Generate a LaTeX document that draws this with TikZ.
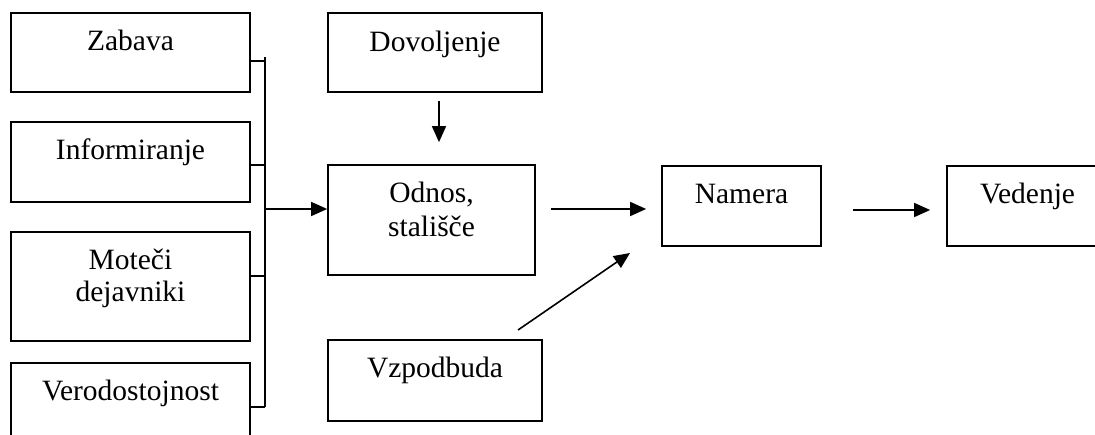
\documentclass[tikz,border=0pt]{standalone}
\usepackage{fontspec}
\setmainfont{Liberation Serif}
\usetikzlibrary{arrows.meta}
\begin{document}
\begin{tikzpicture}[x=1pt,y=-1pt,
 box/.style={draw, line width=1.7pt, inner sep=0pt},
 txt/.style={font=\fontsize{29.5}{34}\selectfont, anchor=base, inner sep=0pt, align=center},
 ln/.style={line width=1.6pt},
 arr/.style={line width=1.6pt, -{Triangle[length=16pt,width=14pt]}}]
\useasboundingbox (0,0) rectangle (1095,435);
\fill[white] (0,0) rectangle (1095,435);
\clip (0,0) rectangle (1095,435);
% boxes
\node[box, minimum width=239pt, minimum height=79pt] (zab) at (130.5,52.5) {};
\node[box, minimum width=239pt, minimum height=80pt] (inf) at (130.5,162) {};
\node[box, minimum width=239pt, minimum height=109pt] (mot) at (130.5,286.5) {};
\node[box, minimum width=239pt, minimum height=80pt] (ver) at (130.5,403) {};
\node[box, minimum width=214pt, minimum height=79pt] (dov) at (435,52.5) {};
\node[box, minimum width=207pt, minimum height=110pt] (odn) at (431.5,220) {};
\node[box, minimum width=214pt, minimum height=81pt] (vzp) at (435,380.5) {};
\node[box, minimum width=159pt, minimum height=80pt] (nam) at (741.5,206) {};
\node[box, minimum width=161pt, minimum height=80pt] (ved) at (1027.5,206) {};
% texts
\node[txt] (tzab) at (130.5,51) {Zabava};
\node[txt] (tinf) at (130.5,160) {Informiranje};
\node[txt] (tmot1) at (130.5,270) {Moteči};
\node[txt] (tmot2) at (130.5,302) {dejavniki};
\node[txt] (tver) at (130.5,400) {Verodostojnost};
\node[txt] (tdov) at (435,52) {Dovoljenje};
\node[txt] (todn1) at (431.5,203) {Odnos,};
\node[txt] (todn2) at (431.5,237) {stališče};
\node[txt] (tvzp) at (435,378) {Vzpodbuda};
\node[txt] (tnam) at (741.5,204) {Namera};
\node[txt] (tved) at (1027.5,204) {Vedenje};
% bus
\coordinate (btop) at (265,57);
\coordinate (b1) at (265,61);
\coordinate (b2) at (265,165);
\coordinate (bo) at (265,209);
\coordinate (b3) at (265,276);
\coordinate (b4) at (265,407);
\draw[ln] (btop) -- (b4);
\draw[ln] (b1 -| zab.east) -- (b1);
\draw[ln] (b2 -| inf.east) -- (b2);
\draw[ln] (b3 -| mot.east) -- (b3);
\draw[ln] (b4 -| ver.east) -- (b4);
\draw[arr] (bo) -- (bo -| odn.west);
% other arrows
\coordinate (cx) at (439,0);
\draw[arr, shorten <=8pt, shorten >=22pt] (cx |- dov.south) -- (cx |- odn.north);
\coordinate (r1) at (0,209);
\draw[arr, shorten <=15pt, shorten >=15pt] (r1 -| odn.east) -- (r1 -| nam.west);
\coordinate (r2) at (0,210);
\draw[arr, shorten <=31pt, shorten >=16pt] (r2 -| nam.east) -- (r2 -| ved.west);
\coordinate (v1) at (518,330);
\coordinate (v2) at (630,253);
\draw[arr] (v1) -- (v2);
\end{tikzpicture}
\end{document}
